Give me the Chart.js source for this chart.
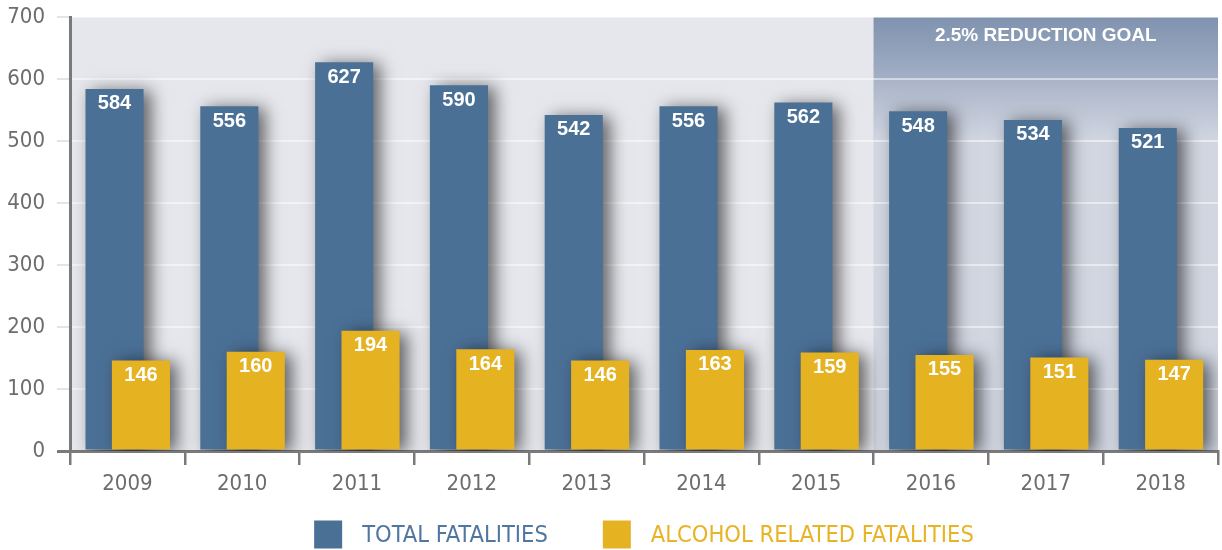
<!DOCTYPE html>
<html>
<head>
<meta charset="utf-8">
<style>
  html, body { margin: 0; padding: 0; background: #ffffff; }
  #wrap { width: 1222px; height: 550px; }
</style>
<script src="https://cdn.jsdelivr.net/npm/chart.js@4.4.1/dist/chart.umd.min.js"></script>
</head>
<body>
<div id="wrap"><canvas id="c" width="1222" height="550"></canvas></div>
<script>
const years = ['2009','2010','2011','2012','2013','2014','2015','2016','2017','2018'];
const totalFatalities = [584, 556, 627, 590, 542, 556, 562, 548, 534, 521];
const alcoholFatalities = [146, 160, 194, 164, 146, 163, 159, 155, 151, 147];
const seriesNames = ['TOTAL FATALITIES', 'ALCOHOL RELATED FATALITIES'];
const goalLabel = '2.5% REDUCTION GOAL';
const goalStartIndex = 7;
const goalHeaderValue = 600;

const BLUE = '#4b7096';
const YELLOW = '#e5b222';
const AXIS = '#7a7a7a';
const LABEL_FONT = '"Liberation Sans Narrow", "DejaVu Sans Condensed", "Liberation Sans", sans-serif';

const shiftPlugin = {
  id: 'shift',
  afterDatasetsUpdate(chart) {
    chart.data.datasets.forEach((ds, i) => {
      const meta = chart.getDatasetMeta(i);
      const xs = chart.scales.x;
      const cat = (xs.right - xs.left) / years.length;
      meta.data.forEach(el => { el.x += ds.shiftFrac * cat; });
    });
  }
};

const backgroundPlugin = {
  id: 'bgPlot',
  beforeDraw(chart) {
    const {ctx, chartArea: a, scales} = chart;
    ctx.save();
    ctx.fillStyle = '#e6e7ec';
    ctx.fillRect(a.left, a.top, a.right - a.left, a.bottom - a.top);
    const cat = (a.right - a.left) / years.length;
    const gx = scales.x.getPixelForValue(goalStartIndex) - cat / 2;
    const hy = scales.y.getPixelForValue(goalHeaderValue);
    const y5 = scales.y.getPixelForValue(500);
    ctx.fillStyle = '#d1d6e1';
    ctx.fillRect(gx, a.top, a.right - gx, a.bottom - a.top);
    let g = ctx.createLinearGradient(0, hy, 0, y5);
    g.addColorStop(0, '#a9b4c8');
    g.addColorStop(1, '#d1d6e1');
    ctx.fillStyle = g;
    ctx.fillRect(gx, hy, a.right - gx, y5 - hy);
    g = ctx.createLinearGradient(0, a.top, 0, hy);
    g.addColorStop(0, '#7f92ae');
    g.addColorStop(1, '#a3afc5');
    ctx.fillStyle = g;
    ctx.fillRect(gx, a.top, a.right - gx, hy - a.top);
    ctx.fillStyle = '#ffffff';
    ctx.font = 'bold 19px "Liberation Sans", Arial, sans-serif';
    ctx.textAlign = 'center';
    ctx.textBaseline = 'middle';
    ctx.fillText(goalLabel, (gx + a.right) / 2, a.top + 19);
    ctx.restore();
  }
};

const shadowPlugin = {
  id: 'barShadow',
  beforeDatasetDraw(chart) {
    const ctx = chart.ctx;
    ctx.save();
    ctx.shadowColor = 'rgba(0,0,0,0.58)';
    ctx.shadowBlur = 16;
    ctx.shadowOffsetX = 7;
    ctx.shadowOffsetY = 2;
  },
  afterDatasetDraw(chart) {
    chart.ctx.restore();
  }
};

const valueLabelPlugin = {
  id: 'valueLabels',
  afterDatasetsDraw(chart) {
    const ctx = chart.ctx;
    ctx.save();
    ctx.fillStyle = '#ffffff';
    ctx.font = 'bold 20px "Liberation Sans", Arial, sans-serif';
    ctx.textAlign = 'center';
    ctx.textBaseline = 'middle';
    chart.data.datasets.forEach((ds, i) => {
      const meta = chart.getDatasetMeta(i);
      meta.data.forEach((el, j) => {
        ctx.fillText(String(ds.data[j]), el.x, el.y + 15);
      });
    });
    ctx.restore();
  }
};

const legendPlugin = {
  id: 'customLegend',
  afterDraw(chart) {
    const ctx = chart.ctx;
    const colors = [BLUE, YELLOW];
    const textColors = ['#5077a0', '#e8b325'];
    ctx.save();
    ctx.font = '23.5px ' + LABEL_FONT;
    ctx.textBaseline = 'middle';
    ctx.textAlign = 'left';
    const box = 28, gapText = 20, gapItem = 55;
    const widths = seriesNames.map(n => box + gapText + ctx.measureText(n).width);
    const total = widths[0] + widths[1] + gapItem;
    const a = chart.chartArea;
    let x = (a.left + a.right) / 2 - total / 2;
    const cy = 534.5;
    seriesNames.forEach((n, i) => {
      ctx.fillStyle = colors[i];
      ctx.fillRect(x, cy - box / 2, box, box);
      ctx.fillStyle = textColors[i];
      ctx.fillText(n, x + box + gapText, cy + 1);
      x += widths[i] + gapItem;
    });
    ctx.restore();
  }
};

new Chart(document.getElementById('c'), {
  type: 'bar',
  data: {
    labels: years,
    datasets: [
      {
        label: seriesNames[0],
        data: totalFatalities,
        backgroundColor: BLUE,
        grouped: false,
        order: 2,
        shiftFrac: -0.112,
        barPercentage: 0.506,
        categoryPercentage: 1.0
      },
      {
        label: seriesNames[1],
        data: alcoholFatalities,
        backgroundColor: YELLOW,
        grouped: false,
        order: 1,
        shiftFrac: 0.118,
        barPercentage: 0.506,
        categoryPercentage: 1.0
      }
    ]
  },
  options: {
    responsive: false,
    animation: false,
    events: [],
    layout: { padding: { left: 0, right: 4, top: 17, bottom: 49 } },
    plugins: {
      legend: { display: false },
      tooltip: { enabled: false }
    },
    scales: {
      x: {
        offset: true,
        afterFit(scale) { scale.height = 50; scale.paddingLeft = 0; scale.paddingRight = 0; },
        border: { display: true, color: AXIS, width: 3 },
        grid: {
          offset: true,
          drawOnChartArea: false,
          drawTicks: true,
          tickLength: 14,
          color: AXIS,
          lineWidth: 2.5
        },
        ticks: {
          color: '#6d6d6d',
          font: { family: LABEL_FONT, size: 22 },
          padding: 6,
          maxRotation: 0
        }
      },
      y: {
        min: 0,
        max: 700,
        afterFit(scale) { scale.width = 70; scale.paddingTop = 0; scale.paddingBottom = 0; },
        border: { display: true, color: AXIS, width: 3 },
        grid: {
          color: ctx => ctx.index === 0 ? AXIS : 'rgba(255,255,255,0.5)',
          tickColor: ctx => ctx.index === 0 ? AXIS : '#e4e4e4',
          lineWidth: ctx => ctx.index === 0 ? 3 : 2,
          tickLength: 13,
          drawTicks: true
        },
        ticks: {
          stepSize: 100,
          color: '#6d6d6d',
          font: { family: LABEL_FONT, size: 22 },
          padding: 12
        }
      }
    }
  },
  plugins: [shiftPlugin, backgroundPlugin, shadowPlugin, valueLabelPlugin, legendPlugin]
});
</script>
</body>
</html>
